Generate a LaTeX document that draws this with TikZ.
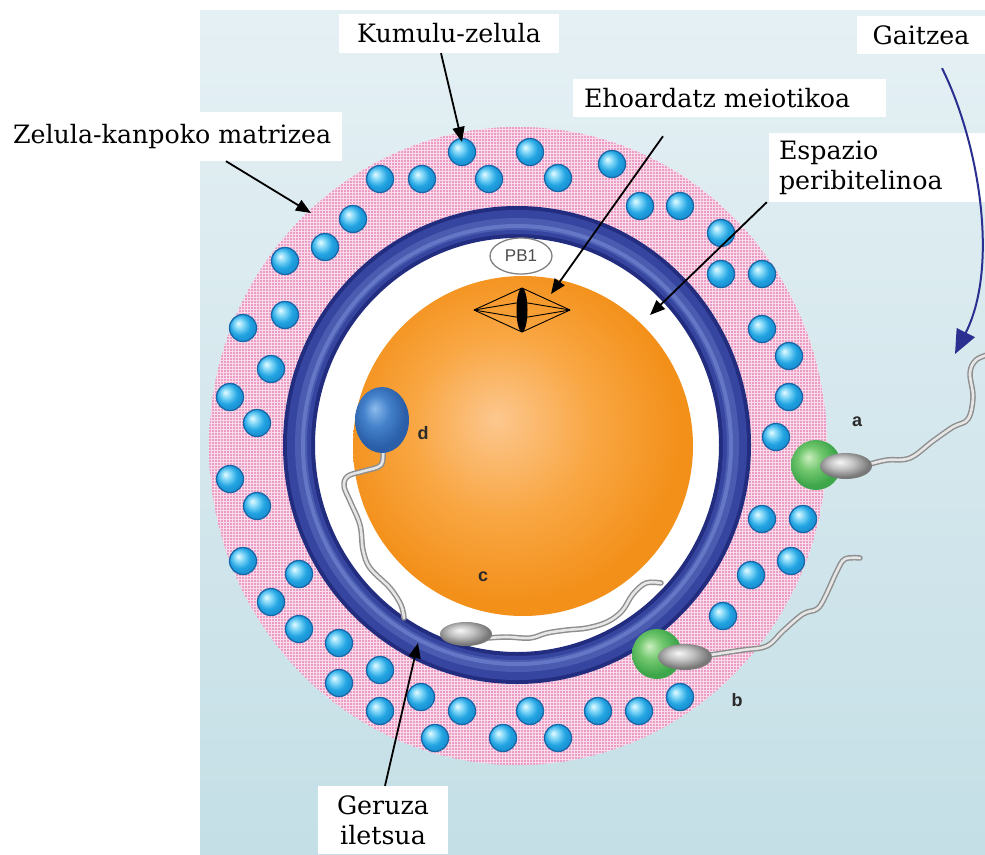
\documentclass[tikz,border=0pt]{standalone}
\usepackage{fontspec}
\setmainfont{DejaVu Serif}
\newfontfamily\sansfont{Liberation Sans}
\usetikzlibrary{arrows.meta,patterns.meta,shapes.geometric}

% palette
\definecolor{bgTop}{HTML}{E5F0F4}
\definecolor{bgBot}{HTML}{C4DFE6}
\definecolor{pinkBase}{HTML}{F8DCEA}
\definecolor{pinkDot}{HTML}{E05A9E}
\definecolor{ringDark}{HTML}{232D80}
\definecolor{ringMid}{HTML}{3646A0}
\definecolor{ringLight}{HTML}{4A5BB0}
\definecolor{ringGlow}{HTML}{6476C6}
\definecolor{cellHi}{HTML}{E6FBFF}
\definecolor{cellMid}{HTML}{7FD6F7}
\definecolor{cellLo}{HTML}{22A4E2}
\definecolor{cellRim}{HTML}{1C95D6}
\definecolor{cellEdge}{HTML}{1867A8}
\definecolor{eggHi}{HTML}{FCC78E}
\definecolor{eggMid}{HTML}{F9A744}
\definecolor{eggLo}{HTML}{F3901A}
\definecolor{greenHi}{HTML}{CBEFC0}
\definecolor{greenMid}{HTML}{72C76E}
\definecolor{greenLo}{HTML}{3DA64A}
\definecolor{greyHi}{HTML}{F7F7F7}
\definecolor{greyMid}{HTML}{C2C2C2}
\definecolor{greyLo}{HTML}{787878}
\definecolor{blueHi}{HTML}{8DBBEC}
\definecolor{blueMid}{HTML}{4482CB}
\definecolor{blueLo}{HTML}{2A5EA8}
\definecolor{tailDark}{HTML}{8E8E8E}
\definecolor{tailLight}{HTML}{E6E6E6}
\definecolor{navy}{HTML}{2B2F8F}
\definecolor{pbGrey}{HTML}{808080}
\definecolor{letterGrey}{HTML}{2A2A2A}

% ball shadings with an upper-left highlight
\pgfdeclareradialshading{cellball}{\pgfpoint{-9bp}{9bp}}{color(0bp)=(cellHi); color(9bp)=(cellMid); color(19bp)=(cellLo); color(25bp)=(cellRim); color(50bp)=(cellRim)}
\pgfdeclareradialshading{eggball}{\pgfpoint{-4bp}{4bp}}{color(0bp)=(eggHi); color(13bp)=(eggMid); color(25bp)=(eggLo); color(50bp)=(eggLo)}
\pgfdeclareradialshading{greenball}{\pgfpoint{-8bp}{8bp}}{color(0bp)=(greenHi); color(12bp)=(greenMid); color(25bp)=(greenLo); color(50bp)=(greenLo)}
\pgfdeclareradialshading{greyball}{\pgfpoint{-6bp}{8bp}}{color(0bp)=(greyHi); color(12bp)=(greyMid); color(25bp)=(greyLo); color(50bp)=(greyLo)}
\pgfdeclareradialshading{blueball}{\pgfpoint{-7bp}{9bp}}{color(0bp)=(blueHi); color(12bp)=(blueMid); color(25bp)=(blueLo); color(50bp)=(blueLo)}

\newcommand\lblfont{\fontsize{25.3}{30}\selectfont}

\tikzset{
  lbl/.style={fill=white, inner sep=0pt, font=\lblfont, text=black},
  ptr/.style={draw=black, line width=1.8pt, -{Triangle[length=15pt,width=12pt]}},
  letter/.style={font=\sansfont\bfseries\fontsize{18}{20}\selectfont, text=letterGrey, inner sep=0pt},
  cell/.style={shading=cellball, draw=cellEdge, line width=1.3pt},
  flagellum/.style={draw=tailDark, line width=5.5pt, line cap=round, line join=round,
    postaction={draw=tailLight, line width=2.6pt}},
}

\begin{document}
\begin{tikzpicture}[x=1pt,y=-1pt]
\useasboundingbox (0,0) rectangle (985,854);
\fill[white] (0,0) rectangle (985,854);

% pale blue backdrop
\shade[top color=bgTop, bottom color=bgBot] (200,10) rectangle (985,854);

% extracellular matrix
\fill[pinkBase] (518,446) ellipse[x radius=309, y radius=319];
\fill[pattern={Dots[distance=3pt, radius=0.95pt]}, pattern color=pinkDot]
  (518,446) ellipse[x radius=309, y radius=319];

% perivitelline space and zona pellucida
\fill[white] (517,445) ellipse[x radius=204, y radius=209];
\fill[ringDark, even odd rule] (517,445) ellipse[x radius=234, y radius=239]
  (517,445) ellipse[x radius=202, y radius=207];
\draw[ringMid, line width=24pt] (517,445) ellipse[x radius=218, y radius=223];
\draw[ringLight, line width=12pt] (517,445) ellipse[x radius=216, y radius=221];
\draw[ringGlow, line width=4pt] (517,445) ellipse[x radius=214, y radius=219];

% oocyte
\shade[shading=eggball] (523,446) circle[radius=170];

% meiotic spindle
\coordinate (spL) at (474,310);
\coordinate (spR) at (570,310);
\foreach \yy in {288,302,318,332}
  \draw[black, line width=0.9pt] (spL) -- (522,\yy) -- (spR);
\fill[black] (522,310) ellipse[x radius=5.5, y radius=22];

% first polar body
\node[draw=pbGrey, line width=1.3pt, fill=white, ellipse, minimum width=62pt, minimum height=36pt,
      inner sep=0pt, font=\sansfont\fontsize{17}{18}\selectfont, text=black!70] (pb) at (521,256) {PB1};

% cumulus cells
\foreach \x/\y in {462/152, 530/152, 612/164,
  380/179, 422/179, 489/179, 558/178,
  640/206, 680/206, 353/219, 721/233,
  325/247, 285/261, 721/274, 762/274,
  285/315, 243/328, 762/329, 271/369, 789/356,
  230/397, 789/397, 257/423, 776/437,
  230/479, 257/506, 762/519, 803/519,
  243/561, 299/574, 791/561, 751/575,
  271/602, 299/629, 723/616,
  339/643, 380/670, 339/683,
  421/697, 380/711, 462/711,
  435/738, 503/738, 530/711, 558/738, 598/711, 639/711, 680/697}
  \shadedraw[cell] (\x,\y) circle[radius=13.5];

% sperm d (fused with the oocyte)
\draw[flagellum] plot[smooth, tension=0.6] coordinates {(383,450) (381,465) (364,471) (348,476) (344,486)
  (350,501) (360,525) (363,550) (370,568) (390,588) (401,605) (404,618)};
\shade[shading=blueball] (382,420) ellipse[x radius=27, y radius=33];

% sperm c (in the perivitelline space)
\draw[flagellum] plot[smooth, tension=0.6] coordinates {(488,638) (507,637) (530,638) (547,633) (567,630)
  (587,628) (607,622) (622,611) (633,594) (646,583) (661,583)};
\shade[shading=greyball] (466,634) ellipse[x radius=26, y radius=12];

% sperm b (acrosome on the zona)
\draw[flagellum] plot[smooth, tension=0.6] coordinates {(710,655) (743,650) (767,646) (783,631) (803,614)
  (817,609) (825,597) (837,571) (845,559) (860,558)};
\shade[shading=greenball] (657,654) circle[radius=25];
\shade[shading=greyball] (685,657) ellipse[x radius=27, y radius=13];

% sperm a (entering the cumulus)
\draw[flagellum] plot[smooth, tension=0.6] coordinates {(870,464) (887,460) (910,458) (933,441) (953,427)
  (968,419) (973,397) (970,373) (976,360) (990,354)};
\shade[shading=greenball] (816,465) circle[radius=25];
\shade[shading=greyball] (846,466) ellipse[x radius=26, y radius=13];

% sperm labels
\node[letter] (la) at (857,422) {a};
\node[letter] (lb) at (737,700) {b};
\node[letter] (lc) at (483,577) {c};
\node[letter] (ld) at (423,433) {d};

% text labels
\node[lbl, minimum width=220pt, minimum height=39pt] (kum) at (449,33.5) {Kumulu-zelula};
\node[lbl, minimum width=128pt, minimum height=38pt] (gait) at (921,35) {Gaitzea};
\node[lbl, minimum height=38pt, inner xsep=11pt] (ehoa) at (729.5,98) {\makebox[291pt][l]{Ehoardatz meiotikoa}};
\node[lbl, minimum height=49pt, inner xsep=13pt] (zel) at (171,136.5) {\makebox[316pt][l]{Zelula-kanpoko matrizea}};
\node[lbl, minimum height=69pt, text width=196pt, align=left, inner xsep=10pt] (esp) at (877,167.5) {Espazio\\peribitelinoa};
\node[lbl, minimum height=68pt, text width=130pt, align=center] (ger) at (383,820) {Geruza\\iletsua};

% pointer tips
\coordinate (kumTip) at (462,142);
\coordinate (zelTip) at (311,213);
\coordinate (ehoTip) at (551,294);
\coordinate (espTip) at (650,315);
\coordinate (gerTip) at (418,643);
\coordinate (gaitTip) at (955,354);

\draw[ptr] ([xshift=-8pt]kum.south) -- (kumTip);
\draw[ptr] ([xshift=55pt]zel.south) -- (zelTip);
\draw[ptr] ([xshift=-66.5pt, yshift=-19pt]ehoa.south) -- (ehoTip);
\draw[ptr] ([xshift=-2pt]esp.south west) -- (espTip);
\draw[ptr] ([xshift=2pt]ger.north) -- (gerTip);
\draw[navy, line width=2pt, -{Triangle[length=24pt,width=20pt]}]
  ([xshift=21pt, yshift=-14pt]gait.south) .. controls (978,140) and (1000,265) .. (gaitTip);
\end{tikzpicture}
\end{document}
